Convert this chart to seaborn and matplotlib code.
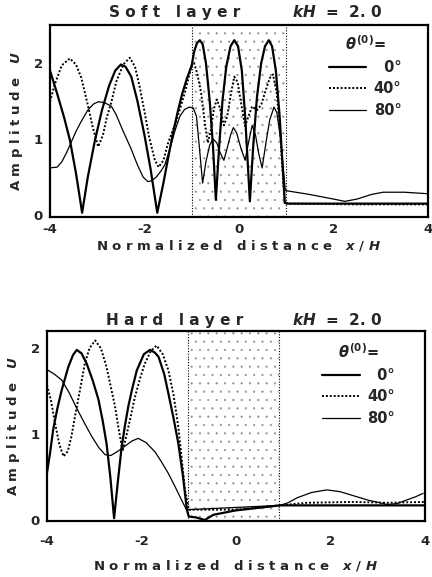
import matplotlib
matplotlib.use("Agg")
import numpy as np
import pandas as pd
import matplotlib.pyplot as plt
import seaborn as sns

# ---------------- data ----------------
# Soft layer, kH = 2.0
soft_x_0 = [-4.0, -3.85, -3.7, -3.58, -3.45, -3.32, -3.2, -3.05, -2.9, -2.75, -2.62, -2.5, -2.4, -2.28,
            -2.15, -2.0, -1.87, -1.73, -1.6, -1.5, -1.4, -1.3, -1.2, -1.1, -1.0,
            -0.95, -0.89, -0.83, -0.77, -0.7, -0.62, -0.55, -0.49, -0.42, -0.35, -0.27, -0.18, -0.1,
            -0.02, 0.06, 0.13, 0.23, 0.3, 0.38, 0.47, 0.55, 0.63, 0.7, 0.78, 0.86, 0.97,
            1.05, 2.5, 4.0]
soft_u_0 = [1.9, 1.6, 1.28, 0.99, 0.55, 0.03, 0.5, 0.98, 1.38, 1.7, 1.9, 1.98, 1.95, 1.82,
            1.5, 1.05, 0.6, 0.03, 0.42, 0.75, 1.07, 1.35, 1.6, 1.8, 1.97,
            2.15, 2.26, 2.3, 2.25, 2.0, 1.5, 0.9, 0.2, 0.9, 1.5, 1.95, 2.22, 2.3,
            2.22, 1.9, 1.3, 0.18, 0.9, 1.55, 2.0, 2.22, 2.3, 2.22, 1.9, 1.3, 0.16,
            0.15, 0.15, 0.15]

soft_x_40 = [-4.0, -3.9, -3.75, -3.58, -3.45, -3.34, -3.2, -3.09, -2.98, -2.88, -2.8, -2.7, -2.6, -2.45,
             -2.31, -2.2, -2.1, -2.0, -1.9, -1.78, -1.7, -1.6, -1.5, -1.33, -1.15, -1.0,
             -0.95, -0.88, -0.8, -0.72, -0.66, -0.6, -0.53, -0.47, -0.4, -0.32, -0.25, -0.17, -0.1,
             -0.03, 0.05, 0.13, 0.2, 0.28, 0.38, 0.47, 0.57, 0.65, 0.72, 0.8, 0.87, 0.92, 0.97,
             2.5, 4.0]
soft_u_40 = [1.49, 1.72, 1.97, 2.06, 1.98, 1.81, 1.45, 1.14, 0.9, 1.05, 1.28, 1.49, 1.75, 1.98,
             2.07, 1.95, 1.68, 1.36, 1.02, 0.72, 0.63, 0.72, 0.95, 1.23, 1.6, 1.97,
             2.0, 1.85, 1.6, 1.2, 0.95, 1.1, 1.4, 1.52, 1.4, 1.18, 1.3, 1.6, 1.82,
             1.75, 1.45, 1.17, 1.3, 1.43, 1.38, 1.45, 1.65, 1.8, 1.85, 1.6, 1.1, 0.6, 0.15,
             0.14, 0.14]

soft_x_80 = [-4.0, -3.85, -3.75, -3.65, -3.55, -3.45, -3.34, -3.2, -3.08, -2.98, -2.85, -2.7, -2.6, -2.45,
             -2.29, -2.15, -2.03, -1.93, -1.85, -1.75, -1.65, -1.57, -1.45, -1.35, -1.25, -1.15, -1.05,
             -0.97, -0.9, -0.84, -0.77, -0.7, -0.62, -0.55, -0.47, -0.4, -0.32, -0.25, -0.18, -0.12,
             -0.05, 0.04, 0.13, 0.2, 0.28, 0.35, 0.42, 0.49, 0.57, 0.65, 0.74, 0.8, 0.88, 0.98,
             1.0, 1.5, 2.0, 2.24, 2.5, 2.8, 3.05, 3.5, 4.0]
soft_u_80 = [0.62, 0.63, 0.7, 0.82, 0.96, 1.1, 1.23, 1.38, 1.46, 1.49, 1.48, 1.43, 1.32, 1.1,
             0.88, 0.66, 0.5, 0.44, 0.45, 0.5, 0.58, 0.66, 0.9, 1.12, 1.3, 1.39, 1.42,
             1.41, 1.3, 0.9, 0.42, 0.7, 0.92, 1.0, 0.95, 0.82, 0.72, 0.88, 1.05, 1.15,
             1.08, 0.88, 0.72, 0.95, 1.18, 1.05, 0.8, 0.62, 0.95, 1.25, 1.42, 1.35, 1.0, 0.33,
             0.32, 0.27, 0.21, 0.18, 0.21, 0.27, 0.3, 0.3, 0.28]

# Hard layer, kH = 2.0
hard_x_0 = [-4.0, -3.93, -3.87, -3.78, -3.69, -3.55, -3.45, -3.37, -3.27, -3.16, -3.03, -2.91, -2.82,
            -2.74, -2.66, -2.58, -2.5, -2.42, -2.35, -2.28, -2.2, -2.1, -1.95, -1.82, -1.72, -1.64,
            -1.52, -1.43, -1.32, -1.22, -1.12, -1.04, -1.0, -0.85, -0.66, -0.48, -0.02, 0.93, 4.0]
hard_u_0 = [0.55, 0.8, 1.05, 1.3, 1.51, 1.78, 1.92, 1.98, 1.94, 1.82, 1.62, 1.4, 1.15,
            0.89, 0.5, 0.02, 0.45, 0.85, 1.1, 1.32, 1.52, 1.74, 1.93, 1.98, 1.95, 1.9,
            1.7, 1.47, 1.18, 0.89, 0.5, 0.12, 0.04, 0.03, 0.0, 0.06, 0.11, 0.17, 0.17]

hard_x_40 = [-4.0, -3.92, -3.83, -3.74, -3.65, -3.56, -3.48, -3.41, -3.3, -3.2, -3.1, -2.98, -2.86,
             -2.74, -2.65, -2.56, -2.48, -2.4, -2.32, -2.23, -2.14, -2.03, -1.93, -1.8, -1.68,
             -1.55, -1.43, -1.32, -1.22, -1.15, -1.08, -1.0, 0.0, 0.93, 1.5, 2.5, 3.2, 4.0]
hard_u_40 = [1.57, 1.4, 1.13, 0.88, 0.74, 0.8, 0.98, 1.2, 1.52, 1.82, 2.0, 2.09, 2.0,
             1.78, 1.55, 1.32, 1.05, 0.8, 0.98, 1.2, 1.43, 1.65, 1.82, 1.97, 2.03,
             1.93, 1.74, 1.45, 1.08, 0.72, 0.35, 0.12, 0.12, 0.17, 0.2, 0.21, 0.2, 0.21]

hard_x_80 = [-4.0, -3.85, -3.69, -3.53, -3.37, -3.2, -3.05, -2.9, -2.77, -2.65, -2.5, -2.35, -2.2,
             -2.07, -1.9, -1.71, -1.57, -1.43, -1.3, -1.15, -1.05, -1.0, 0.93, 1.1, 1.3, 1.6,
             1.92, 2.2, 2.5, 2.8, 3.05, 3.2, 3.4, 3.6, 3.8, 3.96]
hard_u_80 = [1.75, 1.7, 1.63, 1.48, 1.3, 1.12, 0.97, 0.84, 0.76, 0.75, 0.8, 0.86, 0.92,
             0.95, 0.9, 0.79, 0.67, 0.54, 0.4, 0.23, 0.12, 0.12, 0.17, 0.2, 0.26, 0.32,
             0.35, 0.33, 0.28, 0.23, 0.2, 0.18, 0.19, 0.23, 0.27, 0.31]

angle_labels = ["\u20070\u00b0", "40\u00b0", "80\u00b0"]
xtick_vals = [-4, -2, 0, 2, 4]
xtick_labels = ["-4", "-2", "0", "2", "4"]
ytick_vals = [0, 1, 2]
ytick_labels = ["0", "1", "2"]

# ---------------- style ----------------
sns.set_style("white")
plt.rcParams["font.family"] = ["DejaVu Sans"]
plt.rcParams["font.weight"] = "bold"
plt.rcParams["mathtext.fontset"] = "custom"
plt.rcParams["mathtext.it"] = "DejaVu Sans:italic:bold"
plt.rcParams["mathtext.rm"] = "DejaVu Sans:bold"
plt.rcParams["hatch.linewidth"] = 0.3

fig = plt.figure(figsize=(4.32, 5.77), dpi=100)
W, H = 432.0, 577.0
ax1 = fig.add_axes([50 / W, 1 - 217 / H, 378 / W, 192 / H])
ax2 = fig.add_axes([47 / W, 1 - 521 / H, 378 / W, 190 / H])

styles = [
    dict(color="black", linewidth=1.6, linestyle="-"),
    dict(color="black", linewidth=1.4, linestyle=(0, (1, 1))),
    dict(color="black", linewidth=0.9, linestyle="-"),
]


def draw(ax, series, layer, ylim, tickpad, labelpad, leg_anchor):
    ax.axvspan(layer[0], layer[1], facecolor="none", edgecolor="#8c8c8c",
               hatch="..", linewidth=0, zorder=0)
    for xv in layer:
        ax.axvline(xv, color="black", linestyle=(0, (1, 1.5)), linewidth=0.8, zorder=1)
    for (xs, us), lab, st in zip(series, angle_labels, styles):
        df = pd.DataFrame({"x": xs, "U": us})
        sns.lineplot(data=df, x="x", y="U", ax=ax, sort=False, estimator=None,
                     label=lab, zorder=3, **st)
    ax.set_xlim(-4, 4)
    ax.set_ylim(*ylim)
    ax.set_xticks(xtick_vals)
    ax.set_xticklabels(xtick_labels, fontsize=9.5, fontweight="bold")
    ax.set_xticks([-3, -1, 1, 3], minor=True)
    ax.set_yticks(ytick_vals)
    ax.set_yticklabels(ytick_labels, fontsize=9.5, fontweight="bold")
    ax.tick_params(axis="x", which="both", direction="in", length=9, width=1.2, pad=tickpad)
    ax.tick_params(axis="y", direction="in", length=11, width=1.2, pad=5)
    for sp in ax.spines.values():
        sp.set_linewidth(1.6)
        sp.set_color("black")
    ax.set_xlabel("N o r m a l i z e d   d i s t a n c e   $x$ / $H$",
                  fontsize=9.5, fontweight="bold", labelpad=labelpad)
    ax.set_ylabel("A m p l i t u d e   $U$", fontsize=9.5, fontweight="bold", labelpad=6)
    leg = ax.legend(title=r"$\theta^{(0)}$=", frameon=False, loc="upper right",
                    bbox_to_anchor=leg_anchor, fontsize=10.5, title_fontsize=10.5,
                    handlelength=2.6, handletextpad=0.5, labelspacing=0.45,
                    borderpad=0, borderaxespad=0)
    for t in leg.get_texts():
        t.set_fontweight("bold")


draw(ax1, [(soft_x_0, soft_u_0), (soft_x_40, soft_u_40), (soft_x_80, soft_u_80)],
     (-1.0, 1.0), (-0.026, 2.5), 4, 2, (0.93, 0.95))
draw(ax2, [(hard_x_0, hard_u_0), (hard_x_40, hard_u_40), (hard_x_80, hard_u_80)],
     (-1.02, 0.91), (-0.012, 2.2), 10, 7, (0.92, 0.94))

fig.text(175 / W, 1 - 12 / H, "S o f t   l a y e r", ha="center", va="center",
         fontsize=11, fontweight="bold")
fig.text(337 / W, 1 - 12 / H, "$kH$  =  2. 0", ha="center", va="center",
         fontsize=11, fontweight="bold")
fig.text(175 / W, 1 - 320 / H, "H a r d   l a y e r", ha="center", va="center",
         fontsize=11, fontweight="bold")
fig.text(337 / W, 1 - 320 / H, "$kH$  =  2. 0", ha="center", va="center",
         fontsize=11, fontweight="bold")

fig.savefig("out.png", dpi=100)
